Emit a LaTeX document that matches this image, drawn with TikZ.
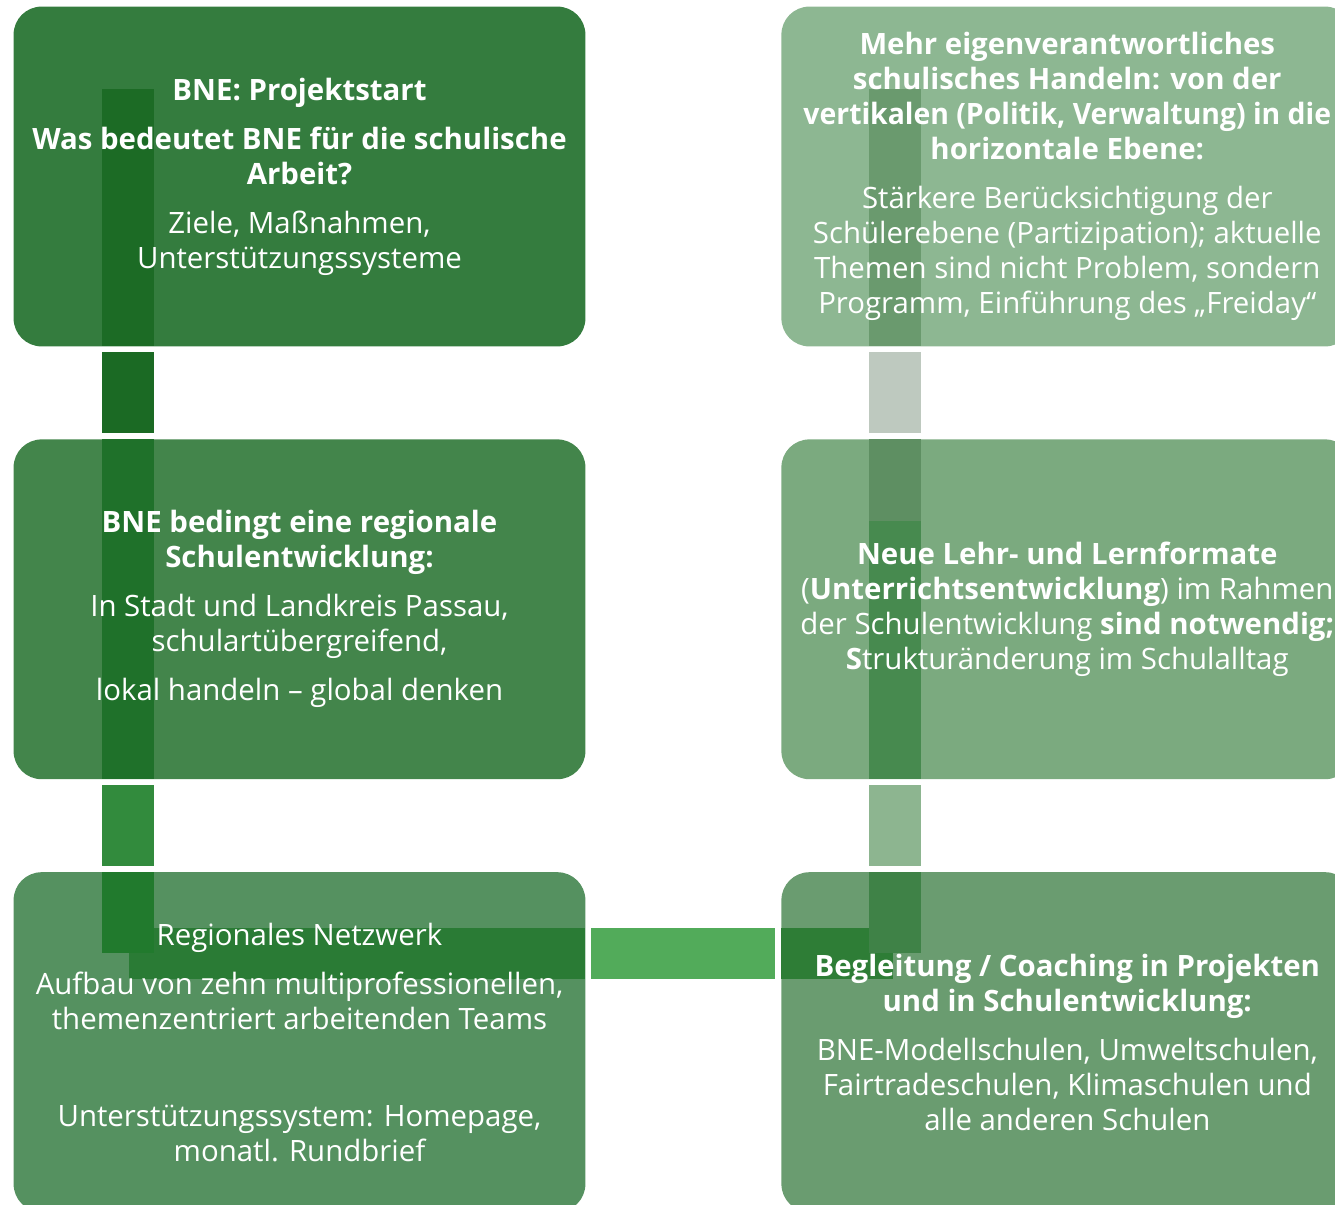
\documentclass[tikz,border=0pt]{standalone}
\usepackage{fontspec}
\setmainfont{Open Sans}
\usepackage{tikz}
\usetikzlibrary{positioning,calc,backgrounds}
\pgfdeclarelayer{bars}
\pgfsetlayers{background,bars,main}
\definecolor{boxA}{HTML}{347C3E}
\definecolor{boxB}{HTML}{43854B}
\definecolor{boxC}{HTML}{559160}
\definecolor{boxD}{HTML}{6A9C70}
\definecolor{boxE}{HTML}{7BAA7F}
\definecolor{boxF}{HTML}{8DB792}

\begin{document}
\begin{tikzpicture}[
    node distance=46.5pt and 98pt,
    font=\fontsize{14.7pt}{17.5pt}\selectfont,
    box/.style={minimum width=285.5pt, minimum height=169.5pt, align=center, text=white, inner sep=0pt},
    boxshape/.style={rounded corners=14pt}
]
    \useasboundingbox (-149.75pt,88.25pt) rectangle ++(667.5pt,-602.5pt);

    % Nodes
    \node[box] (start) at (0,0) {\textbf{BNE: Projektstart}\\[7pt]
        \textbf{Was bedeutet BNE für die schulische}\\\textbf{Arbeit?}\\[7pt]
        Ziele, Maßnahmen,\\Unterstützungssysteme};
    \node[box, below=of start] (region) {\textbf{BNE bedingt eine regionale}\\\textbf{Schulentwicklung:}\\[7pt]
        In Stadt und Landkreis Passau,\\schulartübergreifend,\\[7pt]
        lokal handeln -- global denken};
    \node[box, below=of region] (network) {Regionales Netzwerk\\[7pt]
        Aufbau von zehn multiprofessionellen,\\themenzentriert arbeitenden Teams\\[31pt]
        Unterstützungssystem: Homepage,\\monatl. Rundbrief};
    \node[box, right=of network] (coaching) {\textbf{Begleitung / Coaching in Projekten}\\
        \textbf{und in Schulentwicklung:}\\[7pt]
        BNE-Modellschulen, Umweltschulen,\\Fairtradeschulen, Klimaschulen und\\alle anderen Schulen};
    \node[box, above=of coaching] (formats) {\textbf{Neue Lehr- und Lernformate}\\
        (\textbf{Unterrichtsentwicklung}) im Rahmen\\der Schulentwicklung \textbf{sind notwendig;}\\
        \textbf{S}trukturänderung im Schulalltag};
    \node[box, above=of formats] (handeln) {\textbf{Mehr eigenverantwortliches}\\\textbf{schulisches Handeln: von der}\\
        \scalebox{0.965}[1]{\textbf{vertikalen (Politik, Verwaltung) in die}}\\\textbf{horizontale Ebene:}\\[7pt]
        Stärkere Berücksichtigung der\\Schülerebene (Partizipation); aktuelle\\
        Themen sind nicht Problem, sondern\\Programm, Einführung des „Freiday“};

    % Boxes
    \begin{pgfonlayer}{background}
        \fill[boxA, boxshape] (start.south west) rectangle (start.north east);
        \fill[boxB, boxshape] (region.south west) rectangle (region.north east);
        \fill[boxC, boxshape] (network.south west) rectangle (network.north east);
        \fill[boxD, boxshape] (coaching.south west) rectangle (coaching.north east);
        \fill[boxE, boxshape] (formats.south west) rectangle (formats.north east);
        \fill[boxF, boxshape] (handeln.south west) rectangle (handeln.north east);
    \end{pgfonlayer}

    % Connectors
    \begin{pgfonlayer}{bars}
        \fill[fill={rgb,255:red,28;green,107;blue,37}] ($(start.north west)+(44pt,-41pt)$) rectangle ($(start.south west)+(70pt,0)$);
        \fill[fill={rgb,255:red,27;green,106;blue,36}] ($(start.south west)+(44pt,-3pt)$) rectangle ($(region.north west)+(70pt,3pt)$);
        \fill[fill={rgb,255:red,31;green,113;blue,42}] ($(region.north west)+(44pt,0)$) rectangle ($(region.south west)+(70pt,0)$);
        \fill[fill={rgb,255:red,50;green,139;blue,61}] ($(region.south west)+(44pt,-3pt)$) rectangle ($(network.north west)+(70pt,3pt)$);
        \fill[fill={rgb,255:red,42;green,123;blue,53}] ($(network.north west)+(57.5pt,-28pt)$) rectangle ($(network.north east)+(0,-53.5pt)$);
        \fill[fill={rgb,255:red,33;green,122;blue,45}] ($(network.north west)+(44pt,0)$) rectangle ($(network.north west)+(70pt,-40.5pt)$);
        \fill[fill={rgb,255:red,82;green,171;blue,90}] ($(network.north east)+(3pt,-28pt)$) rectangle ($(coaching.north west)+(-3pt,-53.5pt)$);
        \fill[fill={rgb,255:red,46;green,125;blue,54}] ($(coaching.north west)+(0,-28pt)$) rectangle ($(coaching.north west)+(56pt,-53.5pt)$);
        \fill[fill={rgb,255:red,63;green,130;blue,71}] ($(coaching.north west)+(44pt,0)$) rectangle ($(coaching.north west)+(70pt,-40.5pt)$);
        \fill[fill={rgb,255:red,141;green,181;blue,144}] ($(formats.south west)+(44pt,-3pt)$) rectangle ($(coaching.north west)+(70pt,3pt)$);
        \fill[fill={rgb,255:red,71;green,138;blue,79}] ($(formats.north west)+(44pt,-41pt)$) rectangle ($(formats.south west)+(70pt,0)$);
        \fill[fill={rgb,255:red,94;green,143;blue,98}] ($(formats.north west)+(44pt,0)$) rectangle ($(formats.north west)+(70pt,-41pt)$);
        \fill[fill={rgb,255:red,190;green,201;blue,191}] ($(handeln.south west)+(44pt,-3pt)$) rectangle ($(formats.north west)+(70pt,3pt)$);
        \fill[fill={rgb,255:red,106;green,154;blue,110}] ($(handeln.north west)+(44pt,-41pt)$) rectangle ($(handeln.south west)+(70pt,0)$);
    \end{pgfonlayer}
\end{tikzpicture}
\end{document}
